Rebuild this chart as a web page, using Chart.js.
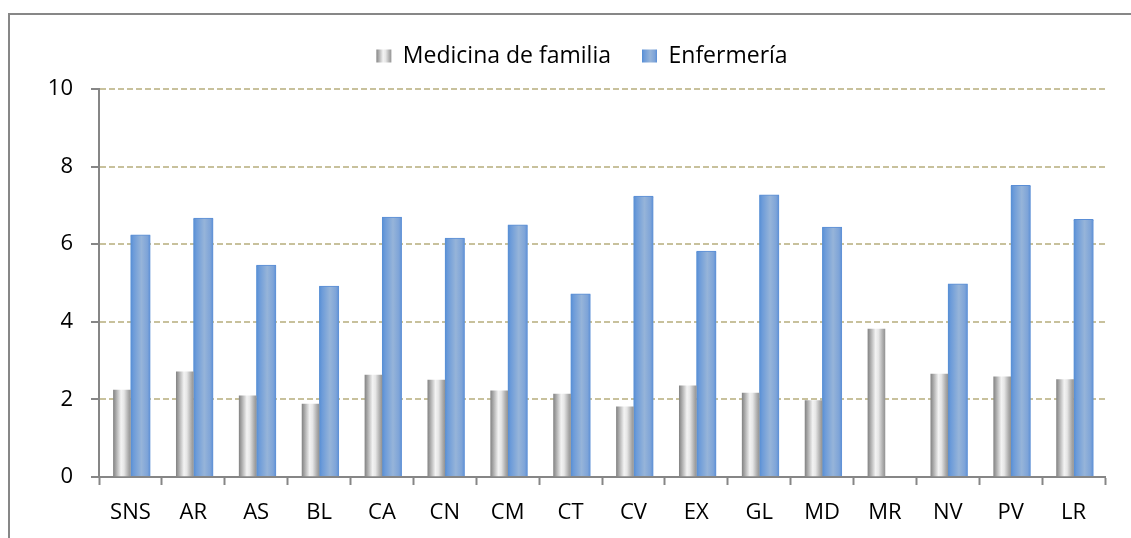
<!DOCTYPE html>
<html>
<head>
<meta charset="utf-8">
<script src="https://cdn.jsdelivr.net/npm/chart.js@4"></script>
<style>
    body { margin: 0; background: #fff; overflow: hidden; }
    #frame {
        position: absolute; left: 8px; top: 13px; width: 1300px; height: 700px;
        border-left: 2px solid #878787; border-top: 2px solid #878787;
    }
    #barChart { position: absolute; left: 0; top: 0; }
</style>
</head>
<body>
<div id="frame"></div>
<canvas id="barChart" width="1131" height="538"></canvas>
<script>
// values
const categories = ['SNS', 'AR', 'AS', 'BL', 'CA', 'CN', 'CM', 'CT', 'CV', 'EX', 'GL', 'MD', 'MR', 'NV', 'PV', 'LR'];
const medicinaFamilia = [2.24, 2.71, 2.09, 1.88, 2.63, 2.50, 2.22, 2.14, 1.81, 2.35, 2.16, 1.97, 3.81, 2.65, 2.58, 2.51];
const enfermeria = [6.24, 6.67, 5.46, 4.92, 6.70, 6.16, 6.50, 4.72, 7.24, 5.82, 7.27, 6.44, null, 4.98, 7.52, 6.64];
const yTicks = [0, 2, 4, 6, 8, 10];

// horizontal shading of each bar (cylinder look)
const shades = [
    [[0, '#868686'], [0.12, '#a2a2a2'], [0.45, '#f3f3f3'], [0.62, '#e6e6e6'], [0.88, '#ababab'], [1, '#959595']],
    [[0, '#548dd4'], [0.15, '#6c9bd9'], [0.55, '#96b4d9'], [0.85, '#7ea4d8'], [1, '#5a8ed6']]
];

function shadeFill(ctx, x0, x1, i) {
    const g = ctx.createLinearGradient(x0, 0, x1, 0);
    shades[i].forEach(s => g.addColorStop(s[0], s[1]));
    return g;
}

const barShading = {
    id: 'barShading',
    beforeDatasetsDraw(chart) {
        const ctx = chart.ctx;
        chart.data.datasets.forEach((ds, i) => {
            chart.getDatasetMeta(i).data.forEach(bar => {
                bar.options.backgroundColor = shadeFill(ctx, bar.x - bar.width / 2, bar.x + bar.width / 2, i);
            });
        });
    },
    afterDraw(chart) {
        // repaint the legend squares with the same shading
        const ctx = chart.ctx;
        const lg = chart.legend;
        const bw = lg.options.labels.boxWidth, bh = lg.options.labels.boxHeight;
        lg.legendHitBoxes.forEach((hb, i) => {
            const y = hb.top + (hb.height - bh) / 2;
            ctx.save();
            ctx.fillStyle = '#fff';
            ctx.fillRect(hb.left - 1, y - 1, bw + 2, bh + 2);
            ctx.fillStyle = shadeFill(ctx, hb.left, hb.left + bw, i);
            ctx.fillRect(hb.left, y, bw, bh);
            ctx.restore();
        });
    }
};

Chart.defaults.font.family = "'Open Sans', sans-serif";
Chart.defaults.color = '#000';

const axisGrey = '#868686';

new Chart(document.getElementById('barChart'), {
    type: 'bar',
    data: {
        labels: categories,
        datasets: [{
            label: 'Medicina de familia',
            data: medicinaFamilia,
            backgroundColor: () => '#c8c8c8',
            borderWidth: 0,
            barThickness: 17
        }, {
            label: 'Enfermería',
            data: enfermeria,
            backgroundColor: () => '#6f9bd8',
            borderColor: '#5a8ed6',
            borderWidth: { top: 1, left: 0, right: 0, bottom: 0 },
            barThickness: 20
        }]
    },
    options: {
        responsive: false,
        animation: false,
        devicePixelRatio: 1,
        layout: { padding: { left: 40, right: 7, top: 13.5, bottom: 0 } },
        plugins: {
            legend: {
                position: 'top',
                weight: 3000,
                labels: {
                    boxWidth: 15,
                    boxHeight: 13,
                    padding: 31,
                    font: { size: 23 }
                }
            },
            title: {
                display: true,
                text: ' ',
                font: { size: 1, lineHeight: 1 },
                padding: { top: 0, bottom: 10.5 }
            },
            tooltip: { enabled: false }
        },
        scales: {
            x: {
                offset: true,
                afterFit: scale => { scale.height = 61; },
                grid: {
                    offset: true,
                    drawOnChartArea: false,
                    tickLength: 8,
                    tickColor: axisGrey,
                    tickWidth: 2
                },
                border: { color: axisGrey, width: 2 },
                ticks: { font: { size: 22 }, padding: 15, maxRotation: 0, autoSkip: false }
            },
            y: {
                min: 0,
                max: 10,
                afterFit: scale => { scale.width = 59; },
                afterBuildTicks: scale => { scale.ticks = yTicks.map(v => ({ value: v })); },
                grid: {
                    color: c => (c.tick && c.tick.value === 0) ? 'rgba(0,0,0,0)' : '#c8c19c',
                    lineWidth: 2,
                    tickLength: 8,
                    tickColor: axisGrey,
                    tickWidth: 2,
                    tickBorderDash: []
                },
                border: { color: axisGrey, width: 2, dash: [6, 3] },
                ticks: { font: { size: 22 }, padding: 18 }
            },
            // empty spacer on the right so the legend sits where it does in the original
            spacer: {
                type: 'linear',
                position: 'right',
                afterFit: scale => { scale.width = 19; },
                grid: { display: false },
                border: { display: false },
                ticks: { display: false }
            }
        }
    },
    plugins: [barShading]
});
</script>
</body>
</html>
